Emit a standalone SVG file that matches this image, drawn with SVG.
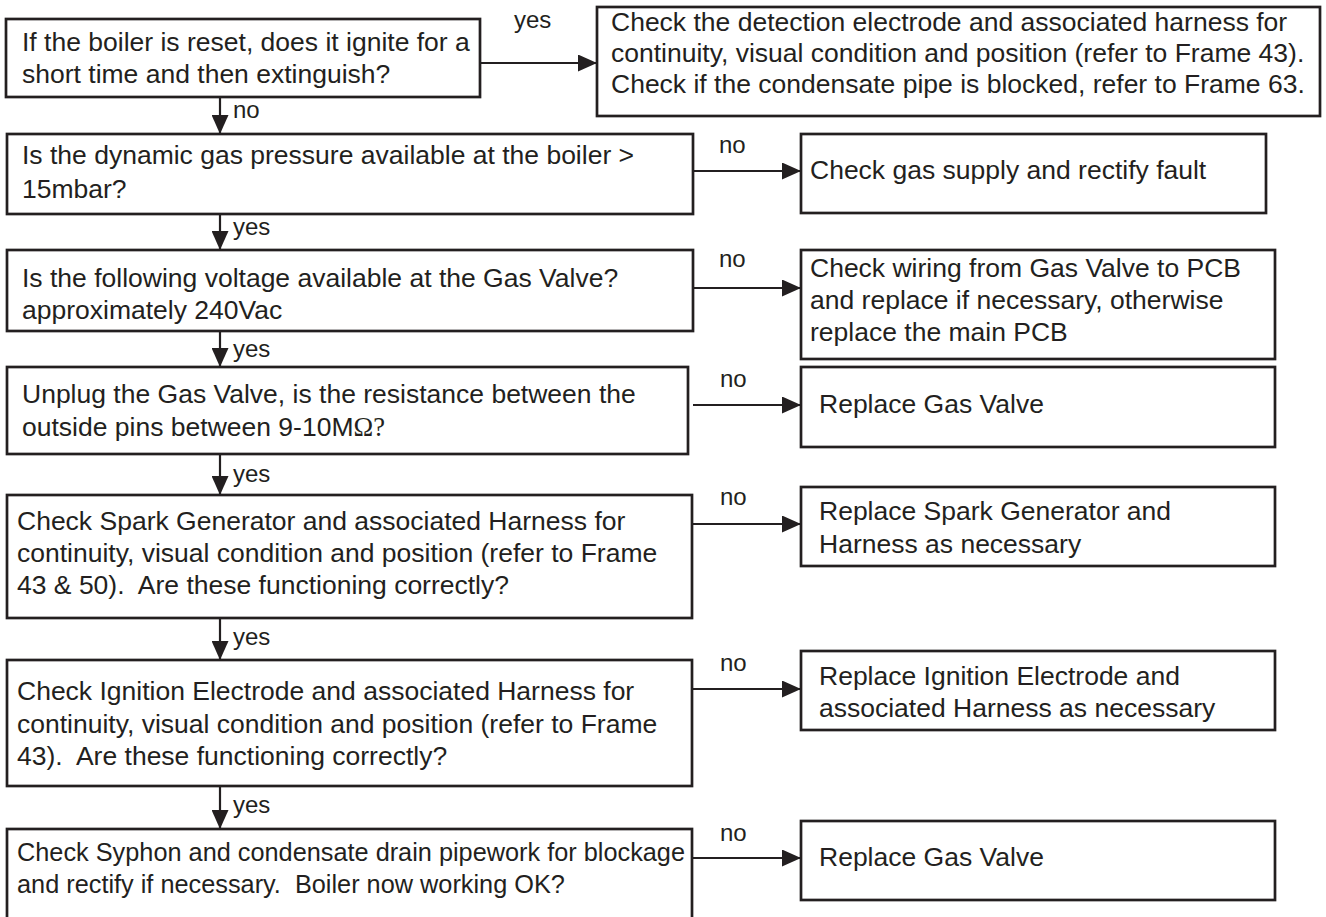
<svg xmlns="http://www.w3.org/2000/svg" width="1326" height="917" viewBox="0 0 1326 917">
<style>
.box{fill:#fff;stroke:#231f20;stroke-width:2.7}
.t{font-family:"Liberation Sans",Arial,sans-serif;font-size:26.5px;fill:#231f20}
.t7{font-size:25.3px}
.lbl{font-family:"Liberation Sans",Arial,sans-serif;font-size:24px;fill:#231f20}
.sym{font-family:"Liberation Serif","Times New Roman",serif}
.c{stroke:#231f20;stroke-width:2.2;fill:none;marker-end:url(#ah)}
</style>
<defs>
<marker id="ah" viewBox="0 0 19 17" refX="19" refY="8.5" markerWidth="19" markerHeight="17" markerUnits="userSpaceOnUse" orient="auto">
<path d="M0,0 L19,8.5 L0,17 z" fill="#231f20"/>
</marker>
</defs>
<rect width="1326" height="917" fill="#fff"/>

<g id="connectors">
<line class="c" x1="480" y1="63" x2="597" y2="63"/>
<text class="lbl" x="514" y="28">yes</text>
<line class="c" x1="220" y1="97" x2="220" y2="134"/>
<text class="lbl" x="233" y="118">no</text>

<line class="c" x1="694" y1="171" x2="801" y2="171"/>
<text class="lbl" x="719" y="153">no</text>
<line class="c" x1="220" y1="214" x2="220" y2="250"/>
<text class="lbl" x="233" y="235">yes</text>

<line class="c" x1="694" y1="288" x2="801" y2="288"/>
<text class="lbl" x="719" y="267">no</text>
<line class="c" x1="220" y1="331" x2="220" y2="367"/>
<text class="lbl" x="233" y="357">yes</text>

<line class="c" x1="693" y1="405" x2="801" y2="405"/>
<text class="lbl" x="720" y="387">no</text>
<line class="c" x1="220" y1="454" x2="220" y2="495"/>
<text class="lbl" x="233" y="482">yes</text>

<line class="c" x1="693" y1="524" x2="801" y2="524"/>
<text class="lbl" x="720" y="505">no</text>
<line class="c" x1="220" y1="618" x2="220" y2="660"/>
<text class="lbl" x="233" y="645">yes</text>

<line class="c" x1="693" y1="689" x2="801" y2="689"/>
<text class="lbl" x="720" y="671">no</text>
<line class="c" x1="220" y1="786" x2="220" y2="829"/>
<text class="lbl" x="233" y="813">yes</text>

<line class="c" x1="693" y1="858" x2="801" y2="858"/>
<text class="lbl" x="720" y="841">no</text>
</g>

<g id="q1">
<rect class="box" x="6" y="19" width="474" height="78"/>
<text class="t" x="22" y="51">If the boiler is reset, does it ignite for a</text>
<text class="t" x="22" y="83">short time and then extinguish?</text>
</g>
<g id="a1">
<rect class="box" x="597" y="7" width="723" height="109"/>
<text class="t" x="611" y="31">Check the detection electrode and associated harness for</text>
<text class="t" x="611" y="62">continuity, visual condition and position (refer to Frame 43).</text>
<text class="t" x="611" y="93">Check if the condensate pipe is blocked, refer to Frame 63.</text>
</g>

<g id="q2">
<rect class="box" x="7" y="134" width="686" height="80"/>
<text class="t" x="22" y="164">Is the dynamic gas pressure available at the boiler &gt;</text>
<text class="t" x="22" y="198">15mbar?</text>
</g>
<g id="a2">
<rect class="box" x="801" y="134" width="465" height="79"/>
<text class="t" x="810" y="179">Check gas supply and rectify fault</text>
</g>

<g id="q3">
<rect class="box" x="7" y="250" width="686" height="81"/>
<text class="t" x="22" y="287">Is the following voltage available at the Gas Valve?</text>
<text class="t" x="22" y="319">approximately 240Vac</text>
</g>
<g id="a3">
<rect class="box" x="801" y="250" width="474" height="109"/>
<text class="t" x="810" y="277">Check wiring from Gas Valve to PCB</text>
<text class="t" x="810" y="309">and replace if necessary, otherwise</text>
<text class="t" x="810" y="341">replace the main PCB</text>
</g>

<g id="q4">
<rect class="box" x="7" y="367" width="681" height="87"/>
<text class="t" x="22" y="403">Unplug the Gas Valve, is the resistance between the</text>
<text class="t" x="22" y="436">outside pins between 9-10M<tspan class="sym">Ω?</tspan></text>
</g>
<g id="a4">
<rect class="box" x="801" y="367" width="474" height="80"/>
<text class="t" x="819" y="413">Replace Gas Valve</text>
</g>

<g id="q5">
<rect class="box" x="7" y="495" width="685" height="123"/>
<text class="t" x="17" y="530">Check Spark Generator and associated Harness for</text>
<text class="t" x="17" y="562">continuity, visual condition and position (refer to Frame</text>
<text class="t" x="17" y="594">43 &amp; 50).&#160; Are these functioning correctly?</text>
</g>
<g id="a5">
<rect class="box" x="801" y="487" width="474" height="79"/>
<text class="t" x="819" y="520">Replace Spark Generator and</text>
<text class="t" x="819" y="553">Harness as necessary</text>
</g>

<g id="q6">
<rect class="box" x="7" y="660" width="685" height="126"/>
<text class="t" x="17" y="700">Check Ignition Electrode and associated Harness for</text>
<text class="t" x="17" y="733">continuity, visual condition and position (refer to Frame</text>
<text class="t" x="17" y="765">43).&#160; Are these functioning correctly?</text>
</g>
<g id="a6">
<rect class="box" x="801" y="651" width="474" height="79"/>
<text class="t" x="819" y="685">Replace Ignition Electrode and</text>
<text class="t" x="819" y="717">associated Harness as necessary</text>
</g>

<g id="q7">
<rect class="box" x="7" y="829" width="685" height="110"/>
<text class="t t7" x="17" y="861">Check Syphon and condensate drain pipework for blockage</text>
<text class="t t7" x="17" y="893">and rectify if necessary.&#160; Boiler now working OK?</text>
</g>
<g id="a7">
<rect class="box" x="801" y="821" width="474" height="79"/>
<text class="t" x="819" y="866">Replace Gas Valve</text>
</g>
</svg>
